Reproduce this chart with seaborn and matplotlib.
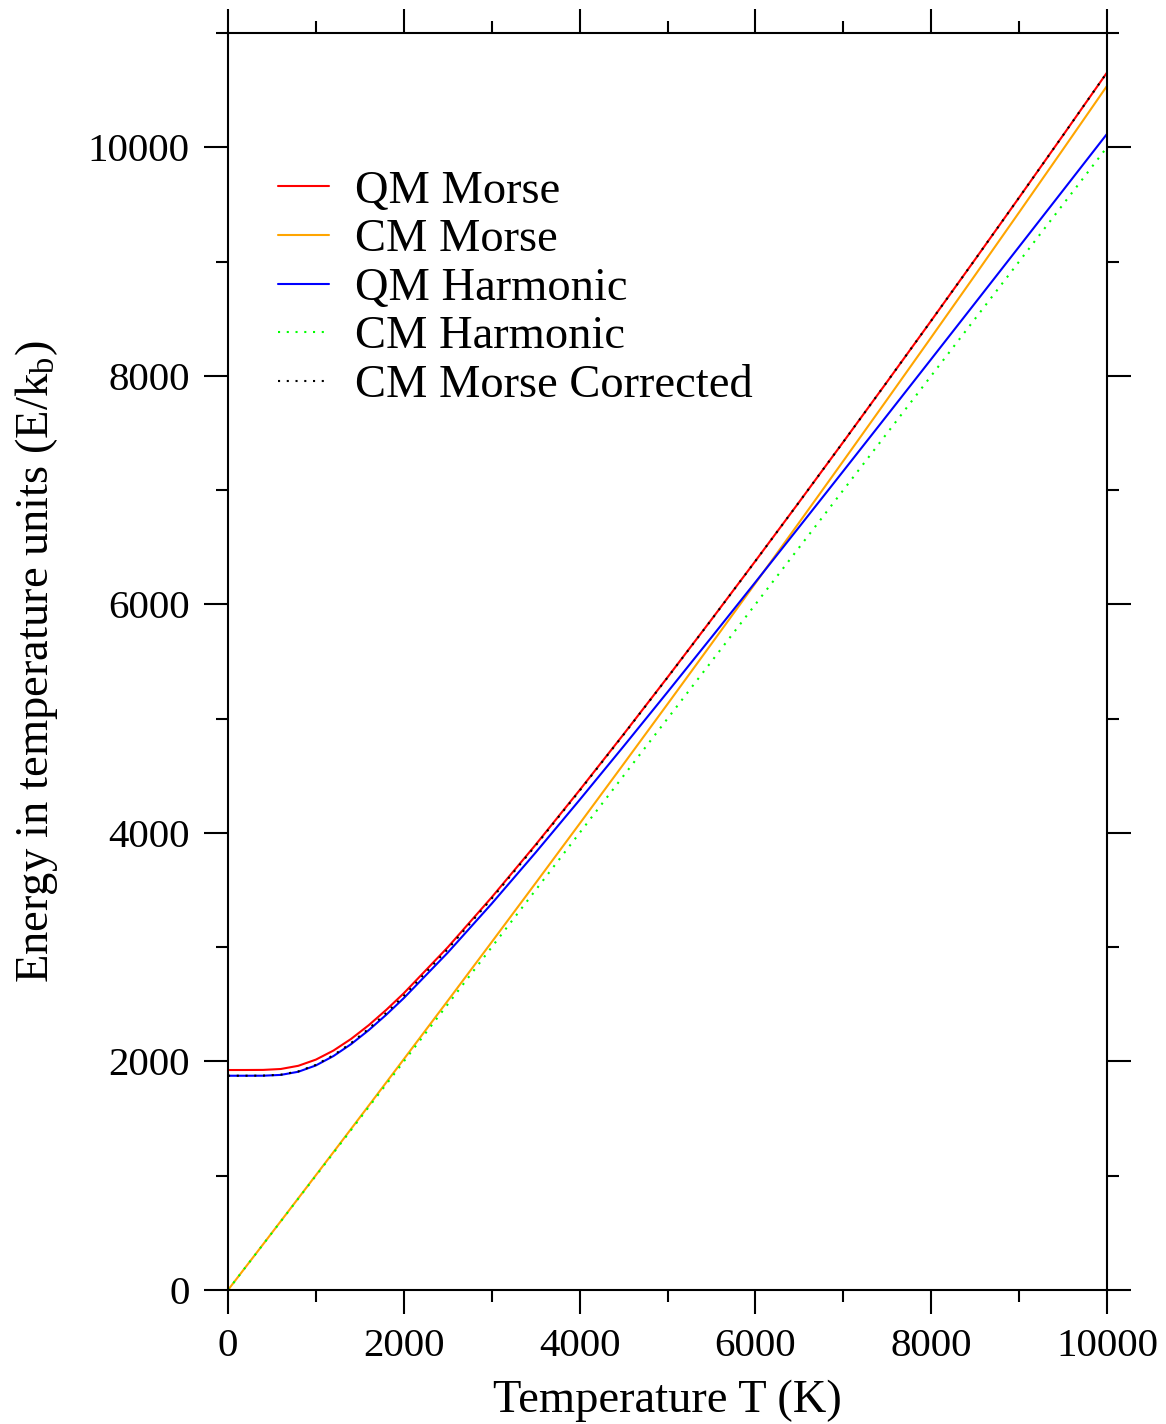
import numpy as np
import pandas as pd
import seaborn as sns
import matplotlib
matplotlib.use("Agg")
import matplotlib.pyplot as plt
from matplotlib.ticker import MultipleLocator

# Temperature grid (K)
temperature = [0, 200, 400, 600, 800, 1000, 1200, 1400, 1600, 1800, 2000,
               2500, 3000, 3500, 4000, 4500, 5000, 5500, 6000, 6500, 7000,
               7500, 8000, 8500, 9000, 9500, 10000]

# Mean energies in temperature units (E/k_b)
qm_morse = [1925.0, 1925.2, 1926.1, 1934.0, 1962.0, 2016.2, 2095.4, 2197.0,
            2316.6, 2451.3, 2596.9, 2999.0, 3436.5, 3896.6, 4374.2, 4862.8,
            5361.3, 5867.1, 6379.6, 6897.8, 7421.4, 7949.7, 8482.4, 9019.2,
            9560.2, 10105.1, 10653.9]
cm_morse = [0.0, 200.2, 400.8, 601.7, 803.1, 1004.9, 1207.0, 1409.6, 1612.5,
            1815.9, 2019.7, 2530.9, 3044.7, 3561.2, 4080.5, 4602.4, 5127.1,
            5654.7, 6185.1, 6718.5, 7254.8, 7794.1, 8336.4, 8881.8, 9430.4,
            9982.1, 10537.0]
qm_harmonic = [1875.0, 1875.0, 1875.3, 1882.3, 1909.9, 1965.3, 2047.4, 2151.4,
               2273.1, 2408.4, 2554.2, 2952.1, 3380.8, 3828.4, 4288.7, 4757.4,
               5232.2, 5711.4, 6194.0, 6679.3, 7166.6, 7655.6, 8146.0, 8637.4,
               9129.8, 9623.0, 10116.9]
cm_harmonic = [0, 200, 400, 600, 800, 1000, 1200, 1400, 1600, 1800, 2000,
               2500, 3000, 3500, 4000, 4500, 5000, 5500, 6000, 6500, 7000,
               7500, 8000, 8500, 9000, 9500, 10000]
cm_morse_corrected = [1875.0, 1875.2, 1876.1, 1884.0, 1913.0, 1970.2, 2054.4,
                      2161.0, 2285.6, 2424.3, 2573.9, 2983.0, 3425.5, 3889.6,
                      4369.2, 4859.8, 5359.3, 5866.1, 6379.1, 6897.8, 7421.4,
                      7949.7, 8482.4, 9019.2, 9560.2, 10105.1, 10653.9]

series_names = ["QM Morse", "CM Morse", "QM Harmonic", "CM Harmonic",
                "CM Morse Corrected"]
series_values = [qm_morse, cm_morse, qm_harmonic, cm_harmonic,
                 cm_morse_corrected]
series_colors = ["#ff0000", "#ffa500", "#0000ff", "#00ff00", "#000000"]
series_dashes = ["-", "-", "-", (0, (1.0, 3.2)), (0, (1.0, 3.2))]

sns.set_style("ticks")
plt.rcParams["font.family"] = ["Liberation Serif", "DejaVu Serif"]
plt.rcParams["mathtext.fontset"] = "custom"
plt.rcParams["mathtext.rm"] = "Liberation Serif"
plt.rcParams["mathtext.it"] = "Liberation Serif:italic"
plt.rcParams["text.color"] = "black"
plt.rcParams["axes.labelcolor"] = "black"
plt.rcParams["xtick.color"] = "black"
plt.rcParams["ytick.color"] = "black"
plt.rcParams["xtick.labelcolor"] = "black"
plt.rcParams["ytick.labelcolor"] = "black"

fig = plt.figure(figsize=(11.66, 14.24), dpi=100)
W, H = 1166, 1424
left, right, top, bottom = 228, 1107, 33, 1290
ax = fig.add_axes([left / W, 1 - bottom / H, (right - left) / W, (bottom - top) / H])

for name, vals, col, ls in zip(series_names, series_values, series_colors, series_dashes):
    df = pd.DataFrame({"T": temperature, "E": vals})
    sns.lineplot(data=df, x="T", y="E", ax=ax, color=col, linestyle=ls,
                 linewidth=1.5, label=name, sort=False)

ax.set_xlim(0, 10000)
ax.set_ylim(0, 11000)
ax.xaxis.set_major_locator(MultipleLocator(2000))
ax.xaxis.set_minor_locator(MultipleLocator(1000))
ax.yaxis.set_major_locator(MultipleLocator(2000))
ax.yaxis.set_minor_locator(MultipleLocator(1000))
ax.tick_params(which="both", direction="out", top=True, right=True,
               width=1.5, colors="black")
ax.tick_params(which="major", length=17.5, labelsize=29.5, pad=10)
ax.tick_params(which="minor", length=8.7)
for sp in ax.spines.values():
    sp.set_linewidth(1.5)
    sp.set_color("black")

ax.set_xlabel("Temperature T (K)", fontsize=33.5, labelpad=10, color="black")
ax.set_ylabel(r"Energy in temperature units (E/k$_\mathrm{b}$)", fontsize=33.5,
              labelpad=20, color="black")

leg = ax.legend(loc="upper left",
                bbox_to_anchor=((278 - left) / (right - left), (bottom - 170) / (bottom - top)),
                frameon=False, fontsize=33.5, handlelength=1.1, handletextpad=0.55,
                labelspacing=0.13, borderpad=0, borderaxespad=0)
for t in leg.get_texts():
    t.set_color("black")

fig.savefig("out.png", dpi=100, facecolor="white")
